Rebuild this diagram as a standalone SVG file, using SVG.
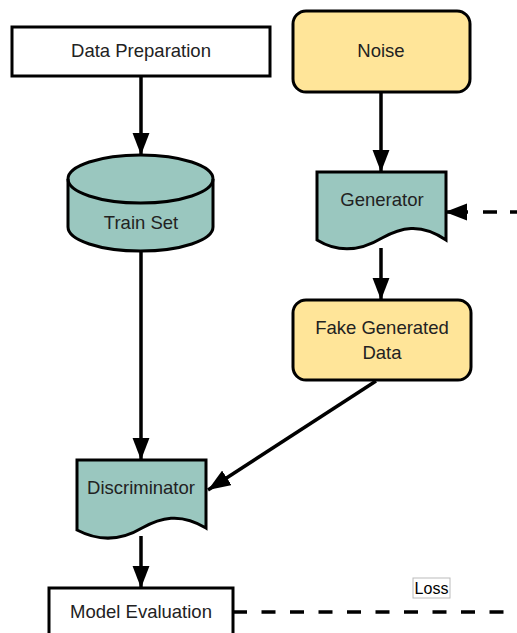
<svg xmlns="http://www.w3.org/2000/svg" width="517" height="633" viewBox="0 0 517 633">
  <defs>
    <marker id="arrow" viewBox="0 0 13 10" refX="13" refY="5" markerWidth="6.4" markerHeight="5" markerUnits="strokeWidth" orient="auto">
      <path d="M0,0 L13,5 L0,10 Z" fill="#000"/>
    </marker>
    <style>
      .box { stroke: #000; stroke-width: 3; }
      .white { fill: #fff; }
      .yellow { fill: #FFE599; }
      .teal { fill: #9AC7BF; }
      .label { font-family: "Liberation Sans", Arial, sans-serif; font-size: 18.5px; fill: #222; text-anchor: middle; }
      .edge { stroke: #000; stroke-width: 3.5; fill: none; }
      .dash { stroke-dasharray: 14 14.5; }
    </style>
  </defs>

  <rect width="517" height="633" fill="#fff"/>

  <!-- connectors -->
  <g id="connectors">
    <line class="edge" x1="141" y1="77" x2="141" y2="155" marker-end="url(#arrow)"/>
    <line class="edge" x1="381" y1="92" x2="381" y2="172" marker-end="url(#arrow)"/>
    <line class="edge" x1="381" y1="248" x2="381" y2="300" marker-end="url(#arrow)"/>
    <line class="edge" x1="141" y1="252" x2="141" y2="460" marker-end="url(#arrow)"/>
    <line class="edge" x1="376" y1="381" x2="208" y2="490" marker-end="url(#arrow)"/>
    <line class="edge" x1="141" y1="536" x2="141" y2="588" marker-end="url(#arrow)"/>
    <!-- loss feedback into the generator -->
    <line class="edge" x1="468" y1="212" x2="445" y2="212" marker-end="url(#arrow)"/>
    <line class="edge" x1="483" y1="212" x2="517" y2="212" stroke-dasharray="14 13"/>
    <line class="edge dash" x1="233" y1="612" x2="517" y2="612"/>
  </g>

  <g id="data-preparation">
    <rect class="box white" x="12" y="27" width="258" height="49"/>
    <text class="label" x="141" y="57">Data Preparation</text>
  </g>

  <g id="noise">
    <rect class="box yellow" x="293" y="11" width="177" height="81" rx="13"/>
    <text class="label" x="381" y="57">Noise</text>
  </g>

  <g id="train-set">
    <path class="box teal" d="M68,179 A72.5,24 0 0 1 213,179 L213,227 A72.5,24 0 0 1 68,227 Z"/>
    <path class="box" fill="none" d="M68,179 A72.5,24 0 0 0 213,179"/>
    <text class="label" x="141" y="229">Train Set</text>
  </g>

  <g id="generator">
    <path class="box teal" d="M317,172 L446,172 L446,240 C420,222 400,228 382,238 C362,250 340,254 317,240 Z"/>
    <text class="label" x="382" y="206">Generator</text>
  </g>

  <g id="fake-generated-data">
    <rect class="box yellow" x="293" y="300" width="178" height="80" rx="13"/>
    <text class="label" x="382" y="334">Fake Generated</text>
    <text class="label" x="382" y="359">Data</text>
  </g>

  <g id="discriminator">
    <path class="box teal" d="M77,460 L206,460 L206,528 C180,512 160,518 142,528 C122,540 100,542 77,530 Z"/>
    <text class="label" x="141" y="494">Discriminator</text>
  </g>

  <g id="model-evaluation">
    <rect class="box white" x="49" y="588" width="184" height="60"/>
    <text class="label" x="141" y="618">Model Evaluation</text>
  </g>

  <g id="loss-label">
    <rect x="413" y="578" width="37" height="20" fill="#fff" stroke="#bbb" stroke-width="1"/>
    <text x="431.5" y="594" font-family="Liberation Sans, Arial, sans-serif" font-size="16" fill="#000" text-anchor="middle">Loss</text>
  </g>
</svg>
